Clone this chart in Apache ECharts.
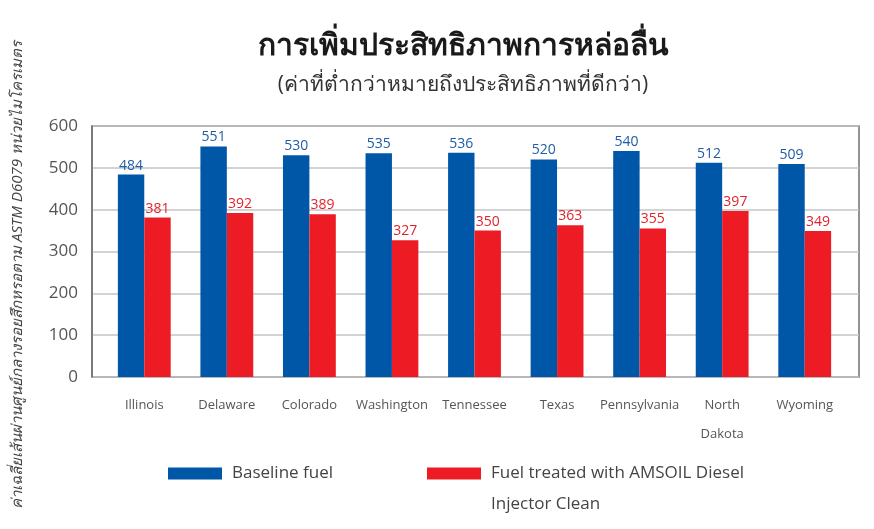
<!DOCTYPE html>
<html>
<head>
<meta charset="utf-8">
<script src="https://cdn.jsdelivr.net/npm/echarts@6/dist/echarts.min.js"></script>
<style>
  html, body { margin: 0; padding: 0; background: #fff; }
  #chart { width: 874px; height: 529px; }
</style>
</head>
<body>
<div id="chart"></div>
<script>
// ข้อมูลจากกราฟ
const states = ['Illinois', 'Delaware', 'Colorado', 'Washington', 'Tennessee', 'Texas', 'Pennsylvania', 'North\nDakota', 'Wyoming'];
const baselineFuel = [484, 551, 530, 535, 536, 520, 540, 512, 509];
const treatedFuel = [381, 392, 389, 327, 350, 363, 355, 397, 349];
const yTicks = [0, 100, 200, 300, 400, 500, 600];

const seriesNames = ['Baseline fuel', 'Fuel treated with AMSOIL Diesel Injector Clean'];
const BLUE = '#0057a8';
const RED = '#ed1c24';
const FONT = '"Open Sans", "Noto Sans", sans-serif';

// ไอคอนสี่เหลี่ยม + จุดว่างสำหรับเว้นระยะ (ให้ไอคอนตรงกับบรรทัดแรก)
const iconSingle = 'path://M0,0L54,0L54,12L0,12Z M59,12L59,12';
const iconDouble = 'path://M0,0L54,0L54,12L0,12Z M59,43L59,43';

const yMin = yTicks[0];
const yMax = yTicks[yTicks.length - 1];

const chart = echarts.init(document.getElementById('chart'));

chart.setOption({
  animation: false,
  title: [
    {
      text: 'การเพิ่มประสิทธิภาพการหล่อลื่น',
      left: 458,
      top: 26,
      textAlign: 'center',
      textStyle: { fontSize: 30, fontWeight: 'bold', color: '#1a1a1a', fontFamily: FONT }
    },
    {
      text: '(ค่าที่ต่ำกว่าหมายถึงประสิทธิภาพที่ดีกว่า)',
      left: 458,
      top: 70,
      textAlign: 'center',
      textStyle: { fontSize: 21, fontWeight: 'normal', color: '#333', fontFamily: FONT }
    }
  ],
  graphic: [
    {
      type: 'text',
      x: 18,
      y: 275,
      rotation: Math.PI / 2,
      style: {
        text: 'ค่าเฉลี่ยเส้นผ่านศูนย์กลางรอยสึกหรอตาม ASTM D6079 หน่วยไมโครเมตร',
        fontSize: 15,
        fontStyle: 'italic',
        fill: '#444',
        fontFamily: FONT,
        align: 'center',
        verticalAlign: 'middle'
      }
    }
  ],
  legend: [
    {
      data: [seriesNames[0]],
      left: 168,
      top: 458,
      padding: 0,
      itemWidth: 59,
      itemHeight: 12,
      icon: iconSingle,
      textStyle: { fontSize: 17, color: '#444', fontFamily: FONT, lineHeight: 31 }
    },
    {
      data: [seriesNames[1]],
      left: 427,
      top: 458,
      padding: 0,
      itemWidth: 59,
      itemHeight: 43,
      icon: iconDouble,
      textStyle: {
        fontSize: 17, color: '#444', fontFamily: FONT,
        width: 264, overflow: 'break', lineHeight: 31
      }
    }
  ],
  grid: [
    // กรอบและเส้นแกน y
    { left: 92, right: 15, top: 126, bottom: 152, show: true, borderColor: '#707070', borderWidth: 1.5 },
    // พื้นที่แท่งกราฟ
    { left: 103, right: 28, top: 126, bottom: 152 }
  ],
  xAxis: [
    { gridIndex: 0, type: 'category', data: [], show: false },
    {
      gridIndex: 1,
      type: 'category',
      data: states,
      axisLine: { show: false },
      axisTick: { show: false },
      axisLabel: {
        margin: 14,
        fontSize: 13,
        color: '#555',
        lineHeight: 29,
        fontFamily: FONT,
        interval: 0
      }
    }
  ],
  yAxis: [
    {
      gridIndex: 0,
      type: 'value',
      min: yMin,
      max: yMax,
      interval: 100,
      axisLine: { show: true, lineStyle: { color: '#707070', width: 1.5 } },
      axisTick: { show: false },
      axisLabel: { margin: 14, fontSize: 17, color: '#555', fontFamily: FONT },
      splitLine: { lineStyle: { color: '#c4c4c4', width: 1.5 } }
    },
    { gridIndex: 1, type: 'value', min: yMin, max: yMax, show: false, splitLine: { show: false } }
  ],
  series: [
    {
      name: seriesNames[0],
      type: 'bar',
      xAxisIndex: 1,
      yAxisIndex: 1,
      data: baselineFuel,
      barGap: '0%',
      barCategoryGap: '36%',
      itemStyle: { color: BLUE },
      label: { show: true, position: 'top', distance: 2, fontSize: 14, color: '#1f5ca6', fontFamily: FONT }
    },
    {
      name: seriesNames[1],
      type: 'bar',
      xAxisIndex: 1,
      yAxisIndex: 1,
      data: treatedFuel,
      itemStyle: { color: RED },
      label: { show: true, position: 'top', distance: 2, fontSize: 14, color: '#e3232b', fontFamily: FONT }
    }
  ]
});
</script>
</body>
</html>
